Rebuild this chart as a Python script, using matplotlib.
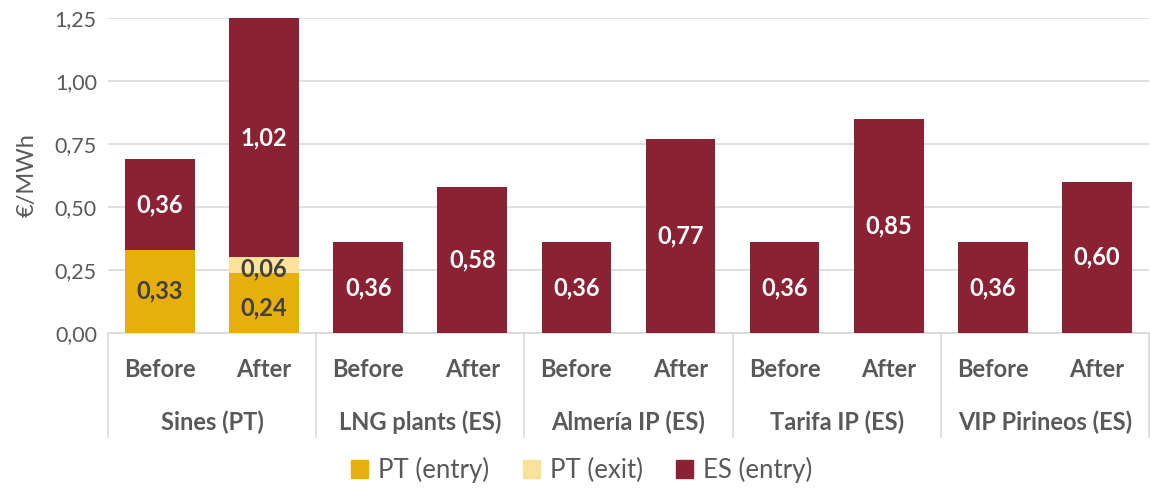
import matplotlib
matplotlib.use("Agg")
import matplotlib.pyplot as plt
from matplotlib.patches import Patch
import matplotlib.transforms as mtransforms

plt.rcParams['font.family'] = ['Lato', 'DejaVu Sans']

groups = ["Sines (PT)", "LNG plants (ES)", "Almería IP (ES)", "Tarifa IP (ES)", "VIP Pirineos (ES)"]
phases = ["Before", "After"]
pt_entry = [0.33, 0.24, 0, 0, 0, 0, 0, 0, 0, 0]
pt_exit = [0, 0.06, 0, 0, 0, 0, 0, 0, 0, 0]
es_entry = [0.36, 1.02, 0.36, 0.58, 0.36, 0.77, 0.36, 0.85, 0.36, 0.60]
series_names = ["PT (entry)", "PT (exit)", "ES (entry)"]
yticks = [0, 0.25, 0.5, 0.75, 1.0, 1.25]

colors = ["#E6AF0B", "#FBE29B", "#8B2234"]
label_colors = ["#404040", "#404040", "white"]
ymax = 1.25

fig = plt.figure(figsize=(11.5, 4.95), dpi=100)
ax = fig.add_axes([108/1150, 1-333/495, 1-108/1150 - 0.001, 315/495])

x = list(range(len(es_entry)))
width = 0.67
bottom = [0.0]*len(x)
for vals, col, lc in zip([pt_entry, pt_exit, es_entry], colors, label_colors):
    ax.bar(x, vals, width, bottom=bottom, color=col, zorder=3)
    for i, v in enumerate(vals):
        if v > 0:
            lo = bottom[i]
            hi = min(bottom[i] + v, ymax)
            yc = (lo + hi) / 2
            if vals is pt_exit:
                yc = lo + v/2 - 0.015
            if vals is pt_entry and i == 1:
                yc = lo + v/2 - 0.02
            ax.text(i, yc, f"{v:.2f}".replace(".", ","), ha="center", va="center",
                    color=lc, fontsize=17, fontweight="bold", zorder=4)
    bottom = [b + v for b, v in zip(bottom, vals)]

ax.set_ylim(0, ymax)
ax.set_xlim(-0.5, len(x) - 0.5)
ax.set_yticks(yticks)
ax.set_yticklabels([f"{t:.2f}".replace(".", ",") for t in yticks], fontsize=15.5, color="#595959")
ax.yaxis.grid(True, color="#D9D9D9", linewidth=1.2, zorder=0)
ax.set_axisbelow(True)
for s in ["top", "right", "left"]:
    ax.spines[s].set_visible(False)
ax.spines["bottom"].set_color("#D9D9D9")
ax.spines["bottom"].set_linewidth(1.2)
ax.tick_params(axis="y", length=0, pad=8)
ax.tick_params(axis="x", length=0, pad=0)
ax.set_xticks(x)
ax.set_xticklabels([])
ax.set_ylabel("€/MWh", fontsize=17, color="#595959", labelpad=12)

trans = mtransforms.blended_transform_factory(ax.transData, ax.transAxes)
for i in x:
    ax.text(i, -0.117, phases[i % 2], transform=trans, ha="center", va="center",
            fontsize=17, fontweight="bold", color="#595959")
for g, name in enumerate(groups):
    ax.text(2*g + 0.5, -0.283, name, transform=trans, ha="center", va="center",
            fontsize=17, fontweight="bold", color="#595959")
for s in range(len(groups) + 1):
    ax.plot([2*s - 0.5, 2*s - 0.5], [0, -0.33], transform=trans, color="#D9D9D9",
            linewidth=1.2, clip_on=False)

handles = [Patch(color=c, label=n) for c, n in zip(colors, series_names)]
leg = fig.legend(handles=handles, loc="center", bbox_to_anchor=(582/1150, 1-470/495), ncol=3,
                 frameon=False, fontsize=18.5, handlelength=0.65, handleheight=0.65,
                 handletextpad=0.4, columnspacing=1.3)
for t in leg.get_texts():
    t.set_color("#595959")

fig.savefig("out.png", dpi=100)
